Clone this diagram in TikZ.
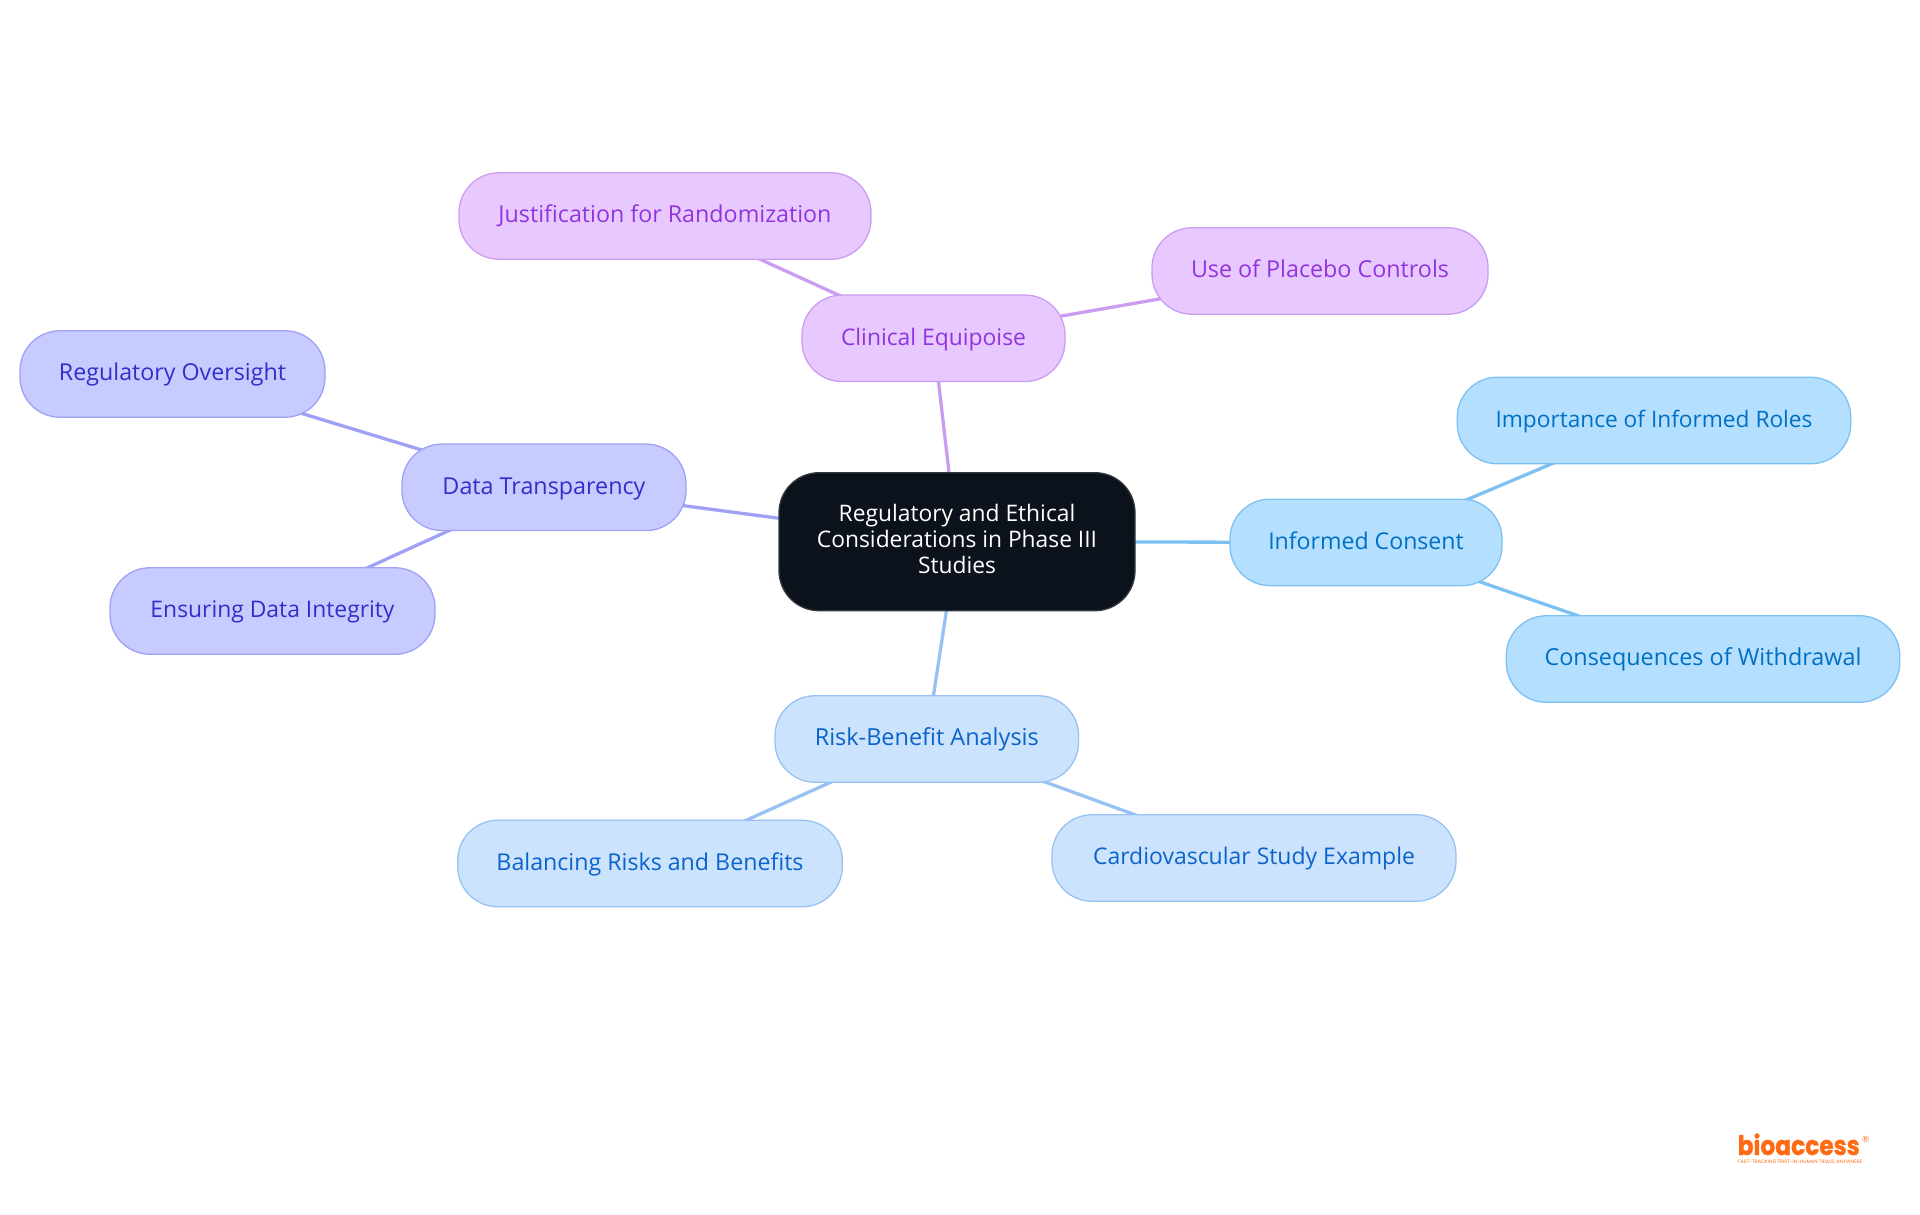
\documentclass[tikz,border=0pt]{standalone}
\usepackage{fontspec}
\usepackage{graphicx}
\setmainfont{Open Sans}
\newfontfamily\logofont[FakeBold=1.2]{Poppins}
\newfontfamily\tagfont{Poppins}
\newfontfamily\regfont{DejaVu Sans}
\usetikzlibrary{backgrounds}
\definecolor{purF}{HTML}{E7C9FF}\definecolor{purD}{HTML}{CB9DF1}\definecolor{purT}{HTML}{9234DE}
\definecolor{indF}{HTML}{C8CBFF}\definecolor{indD}{HTML}{9FA1F5}\definecolor{indT}{HTML}{3030C9}
\definecolor{skyF}{HTML}{B5DFFF}\definecolor{skyD}{HTML}{7CC1F2}\definecolor{skyT}{HTML}{0070C4}
\definecolor{bluF}{HTML}{CCE3FD}\definecolor{bluD}{HTML}{97C2F2}\definecolor{bluT}{HTML}{0B63CC}
\definecolor{rootF}{HTML}{0B121B}\definecolor{rootD}{HTML}{34393F}\definecolor{logoC}{HTML}{FF6A13}
\newcommand{\fitw}[2]{\resizebox{#1pt}{!}{#2}}
\tikzset{
  base/.style={rectangle,rounded corners=40pt,line width=1.3pt,inner sep=0pt,outer sep=0pt,
    font=\fontsize{21.33}{25.6}\selectfont,text height=19.8pt,text depth=6pt},
  purN/.style={base,fill=purF,draw=purD,text=purT},
  indN/.style={base,fill=indF,draw=indD,text=indT},
  skyN/.style={base,fill=skyF,draw=skyD,text=skyT},
  bluN/.style={base,fill=bluF,draw=bluD,text=bluT},
  rootN/.style={rectangle,rounded corners=40pt,line width=1.3pt,inner sep=0pt,outer sep=0pt,
    fill=rootF,draw=rootD,text=white,align=center,font=\fontsize{21.33}{25.6}\selectfont},
  edgeL/.style={line width=3.3pt}
}
\newcommand{\bx}[7]{\node[#1,minimum width=#4pt,minimum height=#5pt] (#2) at (#3) {\fitw{#6}{#7}};}
\begin{document}
\begin{tikzpicture}[x=1pt,y=-1pt]
\useasboundingbox (0,0) rectangle (1920,1215);
\node[rootN,minimum width=356pt,minimum height=138pt] (root) at (957,541.7) {\raisebox{-1.8pt}{\fitw{280}{\begin{tabular}{@{}c@{}}Regulatory and Ethical\\[-1.4pt]Considerations in Phase III\\[-1.4pt]Studies\end{tabular}}}};
\bx{purN}{clin}{933.5,338.3}{263}{86.5}{185}{Clinical Equipoise}
\bx{purN}{just}{665,216}{412}{86.5}{333}{Justification for Randomization}
\bx{purN}{plac}{1320,271}{336}{86.5}{258}{Use of Placebo Controls}
\bx{indN}{data}{544,487.3}{284}{86.5}{203}{Data Transparency}
\bx{indN}{over}{172.5,374}{305}{86.5}{227}{Regulatory Oversight}
\bx{indN}{inte}{272.5,611}{325}{86.5}{244}{Ensuring Data Integrity}
\bx{skyN}{cons}{1366,542.4}{272}{86.5}{195.5}{Informed Consent}
\bx{skyN}{role}{1654,420.5}{393.5}{86.5}{317}{Importance of Informed Roles}
\bx{skyN}{with}{1703,659}{393.5}{86.5}{317}{Consequences of Withdrawal}
\bx{bluN}{risk}{926.8,739}{303.5}{86.5}{224}{Risk-Benefit Analysis}
\bx{bluN}{bala}{650,863.5}{384.5}{86.5}{307}{Balancing Risks and Benefits}
\bx{bluN}{card}{1254,858}{404}{86.5}{322}{Cardiovascular Study Example}
\node[inner sep=0pt,anchor=base west,text=logoC,font=\logofont\bfseries] (logo) at (1737.5,1155) {\resizebox{122pt}{21.5pt}{bioaccess}};
\node[inner sep=0pt,anchor=center,text=logoC,font=\regfont\fontsize{8.5}{8.5}\selectfont] (reg) at (1865.5,1139.5) {®};
\node[inner sep=0pt,anchor=base west,text=logoC,font=\tagfont] (tag) at (1738,1163.5) {\resizebox{124pt}{!}{FAST-TRACKING FIRST-IN-HUMAN TRIALS, ANYWHERE}};
\begin{scope}[on background layer]
\draw[edgeL,purD] (root.center) -- (clin.center);
\draw[edgeL,purD] (clin.center) -- (just.center);
\draw[edgeL,purD] (clin.center) -- (plac.center);
\draw[edgeL,indD] (root.center) -- (data.center);
\draw[edgeL,indD] (data.center) -- (over.center);
\draw[edgeL,indD] (data.center) -- (inte.center);
\draw[edgeL,skyD] (root.center) -- (cons.center);
\draw[edgeL,skyD] (cons.center) -- (role.center);
\draw[edgeL,skyD] (cons.center) -- (with.center);
\draw[edgeL,bluD] (root.center) -- (risk.center);
\draw[edgeL,bluD] (risk.center) -- (bala.center);
\draw[edgeL,bluD] (risk.center) -- (card.center);
\end{scope}
\end{tikzpicture}
\end{document}
